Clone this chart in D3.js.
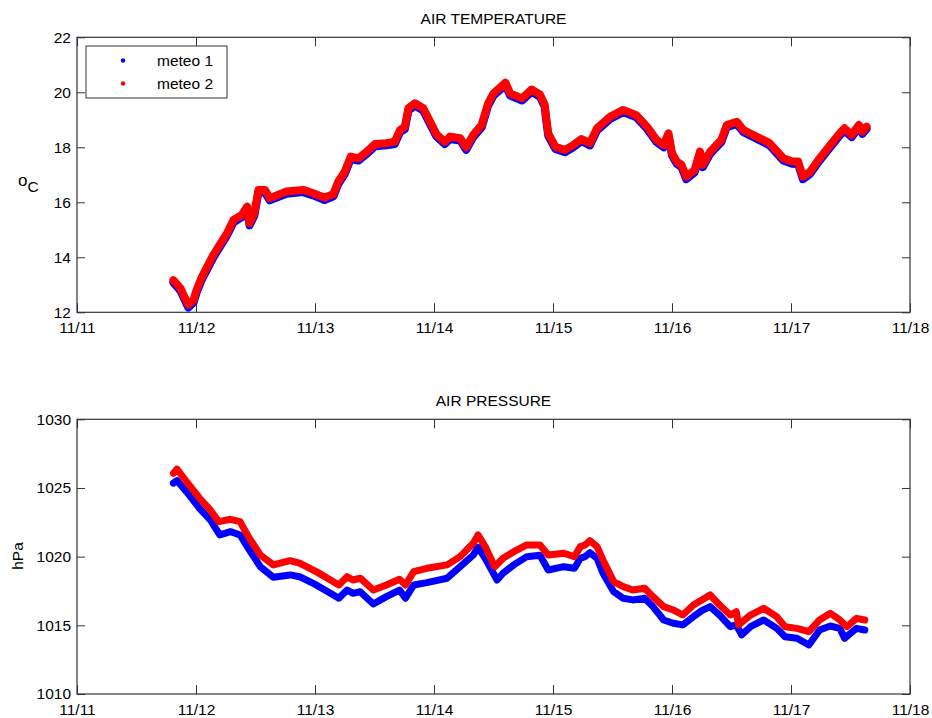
<!DOCTYPE html>
<html>
<head>
<meta charset="utf-8">
<script src="https://cdn.jsdelivr.net/npm/d3@7"></script>
<style>
  body { margin: 0; background: #fff; }
  svg { display: block; font-family: "Liberation Sans", Arial, Helvetica, sans-serif; }
  .axis path, .axis line { stroke: #333; }
  .axis text { font-size: 15.5px; fill: #000; }
</style>
</head>
<body>
<svg id="chart" width="932" height="718"></svg>
<script>
// Time is given as days elapsed since 11/11 00:00.
const xTickLabels = ["11/11", "11/12", "11/13", "11/14", "11/15", "11/16", "11/17", "11/18"];
const tempTicks = [12, 14, 16, 18, 20, 22];
const presTicks = [1010, 1015, 1020, 1025, 1030];
const seriesNames = ["meteo 1", "meteo 2"];

// Air temperature (°C), meteo 2
const tempDays2 = [0.81, 0.87, 0.935, 0.98, 1.005, 1.05, 1.145, 1.26, 1.315, 1.385, 1.43, 1.45, 1.49, 1.525, 1.58, 1.62, 1.76, 1.90, 1.985, 2.08, 2.155, 2.195, 2.25, 2.30, 2.365, 2.435, 2.505, 2.60, 2.67, 2.715, 2.755, 2.785, 2.84, 2.91, 2.965, 3.02, 3.09, 3.135, 3.22, 3.27, 3.33, 3.40, 3.455, 3.50, 3.60, 3.64, 3.74, 3.82, 3.89, 3.93, 3.94, 3.96, 4.02, 4.10, 4.17, 4.24, 4.31, 4.37, 4.48, 4.59, 4.70, 4.79, 4.87, 4.93, 4.97, 5.00, 5.04, 5.08, 5.12, 5.19, 5.235, 5.26, 5.32, 5.415, 5.46, 5.545, 5.60, 5.71, 5.82, 5.935, 6.01, 6.06, 6.10, 6.16, 6.23, 6.33, 6.41, 6.45, 6.51, 6.57, 6.60, 6.635];
const tempMeteo2 = [13.17, 12.87, 12.27, 12.45, 12.81, 13.29, 14.08, 14.87, 15.36, 15.54, 15.84, 15.24, 15.60, 16.45, 16.45, 16.15, 16.39, 16.45, 16.33, 16.17, 16.30, 16.75, 17.11, 17.66, 17.60, 17.84, 18.12, 18.15, 18.20, 18.63, 18.75, 19.42, 19.60, 19.42, 18.95, 18.48, 18.20, 18.39, 18.33, 18.00, 18.45, 18.81, 19.60, 19.96, 20.35, 19.96, 19.78, 20.10, 19.92, 19.56, 19.17, 18.51, 18.02, 17.90, 18.08, 18.30, 18.15, 18.69, 19.11, 19.36, 19.17, 18.75, 18.27, 18.08, 18.51, 17.78, 17.48, 17.36, 16.93, 17.17, 17.84, 17.36, 17.84, 18.27, 18.81, 18.93, 18.63, 18.39, 18.15, 17.60, 17.48, 17.48, 16.93, 17.11, 17.54, 18.08, 18.51, 18.69, 18.45, 18.81, 18.57, 18.75];

// Air temperature (°C), meteo 1
const tempDays1 = tempDays2;
const tempMeteo1 = [13.08, 12.78, 12.17, 12.36, 12.72, 13.20, 13.99, 14.79, 15.27, 15.46, 15.75, 15.16, 15.51, 16.37, 16.36, 16.07, 16.31, 16.37, 16.25, 16.08, 16.22, 16.66, 17.03, 17.57, 17.52, 17.76, 18.04, 18.07, 18.12, 18.55, 18.66, 19.34, 19.52, 19.33, 18.86, 18.40, 18.12, 18.30, 18.25, 17.91, 18.37, 18.72, 19.52, 19.88, 20.26, 19.88, 19.70, 20.02, 19.84, 19.48, 19.08, 18.42, 17.94, 17.82, 18.00, 18.22, 18.07, 18.61, 19.03, 19.28, 19.09, 18.67, 18.19, 18.00, 18.43, 17.70, 17.40, 17.28, 16.84, 17.09, 17.76, 17.28, 17.76, 18.19, 18.73, 18.85, 18.55, 18.31, 18.07, 17.52, 17.40, 17.39, 16.84, 17.03, 17.46, 18.00, 18.43, 18.61, 18.37, 18.73, 18.49, 18.67];

// Air pressure (hPa), meteo 2
const presDays2 = [0.81, 0.84, 0.92, 1.03, 1.12, 1.19, 1.29, 1.37, 1.44, 1.54, 1.65, 1.79, 1.87, 2.01, 2.13, 2.20, 2.27, 2.32, 2.38, 2.49, 2.60, 2.71, 2.76, 2.83, 2.94, 3.11, 3.22, 3.33, 3.37, 3.43, 3.51, 3.58, 3.67, 3.78, 3.89, 3.96, 4.09, 4.18, 4.23, 4.27, 4.31, 4.37, 4.42, 4.51, 4.59, 4.67, 4.77, 4.84, 4.93, 5.01, 5.09, 5.18, 5.25, 5.32, 5.40, 5.49, 5.54, 5.56, 5.66, 5.77, 5.88, 5.95, 6.05, 6.15, 6.24, 6.33, 6.41, 6.47, 6.55, 6.62];
const presMeteo2 = [1026.07, 1026.37, 1025.46, 1024.25, 1023.40, 1022.55, 1022.72, 1022.55, 1021.46, 1020.12, 1019.40, 1019.71, 1019.52, 1018.91, 1018.30, 1017.94, 1018.54, 1018.30, 1018.43, 1017.57, 1017.94, 1018.35, 1017.94, 1018.91, 1019.15, 1019.40, 1020.00, 1020.98, 1021.58, 1020.73, 1019.27, 1019.88, 1020.36, 1020.85, 1020.85, 1020.12, 1020.25, 1020.00, 1020.73, 1020.85, 1021.17, 1020.73, 1019.76, 1018.18, 1017.82, 1017.57, 1017.70, 1017.09, 1016.36, 1016.12, 1015.75, 1016.48, 1016.85, 1017.21, 1016.48, 1015.75, 1015.99, 1015.03, 1015.75, 1016.24, 1015.63, 1014.90, 1014.78, 1014.54, 1015.39, 1015.88, 1015.39, 1014.90, 1015.51, 1015.39];

// Air pressure (hPa), meteo 1
const presDays1 = [0.81, 0.84, 0.92, 1.03, 1.12, 1.20, 1.29, 1.37, 1.44, 1.54, 1.65, 1.79, 1.87, 2.01, 2.13, 2.20, 2.27, 2.32, 2.38, 2.49, 2.60, 2.71, 2.76, 2.83, 2.94, 3.11, 3.22, 3.33, 3.37, 3.43, 3.53, 3.58, 3.67, 3.78, 3.89, 3.96, 4.09, 4.18, 4.23, 4.27, 4.31, 4.37, 4.42, 4.51, 4.59, 4.67, 4.77, 4.84, 4.93, 5.01, 5.09, 5.18, 5.25, 5.32, 5.40, 5.49, 5.54, 5.585, 5.66, 5.77, 5.88, 5.95, 6.05, 6.15, 6.24, 6.33, 6.41, 6.45, 6.55, 6.62];
const presMeteo1 = [1025.35, 1025.54, 1024.73, 1023.52, 1022.67, 1021.58, 1021.82, 1021.58, 1020.61, 1019.27, 1018.50, 1018.67, 1018.54, 1017.94, 1017.33, 1016.97, 1017.57, 1017.33, 1017.45, 1016.55, 1017.09, 1017.57, 1016.97, 1017.94, 1018.11, 1018.43, 1019.27, 1020.12, 1020.68, 1019.88, 1018.30, 1018.79, 1019.40, 1020.00, 1020.10, 1019.03, 1019.27, 1019.15, 1019.88, 1020.00, 1020.29, 1019.88, 1018.79, 1017.45, 1016.97, 1016.85, 1016.97, 1016.36, 1015.39, 1015.15, 1015.03, 1015.63, 1016.07, 1016.36, 1015.75, 1014.90, 1015.03, 1014.30, 1014.90, 1015.39, 1014.78, 1014.17, 1014.06, 1013.57, 1014.66, 1014.95, 1014.78, 1014.06, 1014.78, 1014.66];

const colors = ["#0000ff", "#ff0000"];

const svg = d3.select("#chart");
const left = 77, right = 910;

const x = d3.scaleLinear().domain([0, 7]).range([left, right]);

function drawPanel(cfg) {
  const y = d3.scaleLinear().domain(cfg.domain).range([cfg.bottom, cfg.top]);
  const g = svg.append("g");

  // Data traces: meteo 1 underneath, meteo 2 on top
  const line = d3.line().x(d => x(d[0])).y(d => y(d[1])).curve(d3.curveLinear);
  cfg.series.forEach((s, i) => {
    const pts = s.days.map((d, k) => [d, s.values[k]]);
    g.append("path")
      .datum(pts)
      .attr("fill", "none")
      .attr("stroke", colors[i])
      .attr("stroke-width", cfg.width)
      .attr("stroke-linejoin", "round")
      .attr("stroke-linecap", "round")
      .attr("d", line);
  });

  const xt = d3.range(xTickLabels.length);
  // Bottom axis with labels, ticks pointing inward
  g.append("g").attr("class", "axis")
    .attr("transform", `translate(0,${cfg.bottom})`)
    .call(d3.axisBottom(x).tickValues(xt).tickFormat(i => xTickLabels[i])
      .tickSizeInner(-9).tickSizeOuter(0).tickPadding(10));
  // Top axis, ticks only
  g.append("g").attr("class", "axis")
    .attr("transform", `translate(0,${cfg.top})`)
    .call(d3.axisTop(x).tickValues(xt).tickFormat("")
      .tickSizeInner(-9).tickSizeOuter(0));
  // Left axis with labels
  g.append("g").attr("class", "axis")
    .attr("transform", `translate(${left},0)`)
    .call(d3.axisLeft(y).tickValues(cfg.ticks).tickFormat(d3.format("d"))
      .tickSizeInner(-8).tickSizeOuter(0).tickPadding(6));
  // Right axis, ticks only
  g.append("g").attr("class", "axis")
    .attr("transform", `translate(${right},0)`)
    .call(d3.axisRight(y).tickValues(cfg.ticks).tickFormat("")
      .tickSizeInner(-8).tickSizeOuter(0));

  g.selectAll(".axis .domain").remove();
  g.append("rect")
    .attr("x", left).attr("y", cfg.top)
    .attr("width", right - left).attr("height", cfg.bottom - cfg.top)
    .attr("fill", "none").attr("stroke", "#333").attr("stroke-width", 1.2);

  g.append("text")
    .attr("x", (left + right) / 2).attr("y", cfg.top - 13)
    .attr("text-anchor", "middle").attr("font-size", 15.5)
    .text(cfg.title);
  return g;
}

drawPanel({
  title: "AIR TEMPERATURE",
  top: 37.3, bottom: 312.3, domain: [12, 22], ticks: tempTicks, width: 8,
  series: [
    { days: tempDays1, values: tempMeteo1 },
    { days: tempDays2, values: tempMeteo2 }
  ]
});

drawPanel({
  title: "AIR PRESSURE",
  top: 419.3, bottom: 694, domain: [1010, 1030], ticks: presTicks, width: 7,
  series: [
    { days: presDays1, values: presMeteo1 },
    { days: presDays2, values: presMeteo2 }
  ]
});

// Y-axis labels
const tl = svg.append("text").attr("x", 18).attr("y", 192).attr("font-size", 15.5);
tl.append("tspan").attr("font-size", 17).attr("dy", -6).text("o");
tl.append("tspan").attr("dy", 6).text("C");

svg.append("text")
  .attr("transform", "translate(23,556) rotate(-90)")
  .attr("text-anchor", "middle").attr("font-size", 15.5)
  .text("hPa");

// Legend
const leg = svg.append("g");
leg.append("rect")
  .attr("x", 86).attr("y", 46).attr("width", 141).attr("height", 52)
  .attr("fill", "#fff").attr("stroke", "#333").attr("stroke-width", 1);
seriesNames.forEach((name, i) => {
  const cy = 60.5 + i * 23;
  leg.append("circle").attr("cx", 123).attr("cy", cy).attr("r", 2.2).attr("fill", colors[i]);
  leg.append("text").attr("x", 157).attr("y", cy + 5.5).attr("font-size", 15.5).text(name);
});
</script>
</body>
</html>
